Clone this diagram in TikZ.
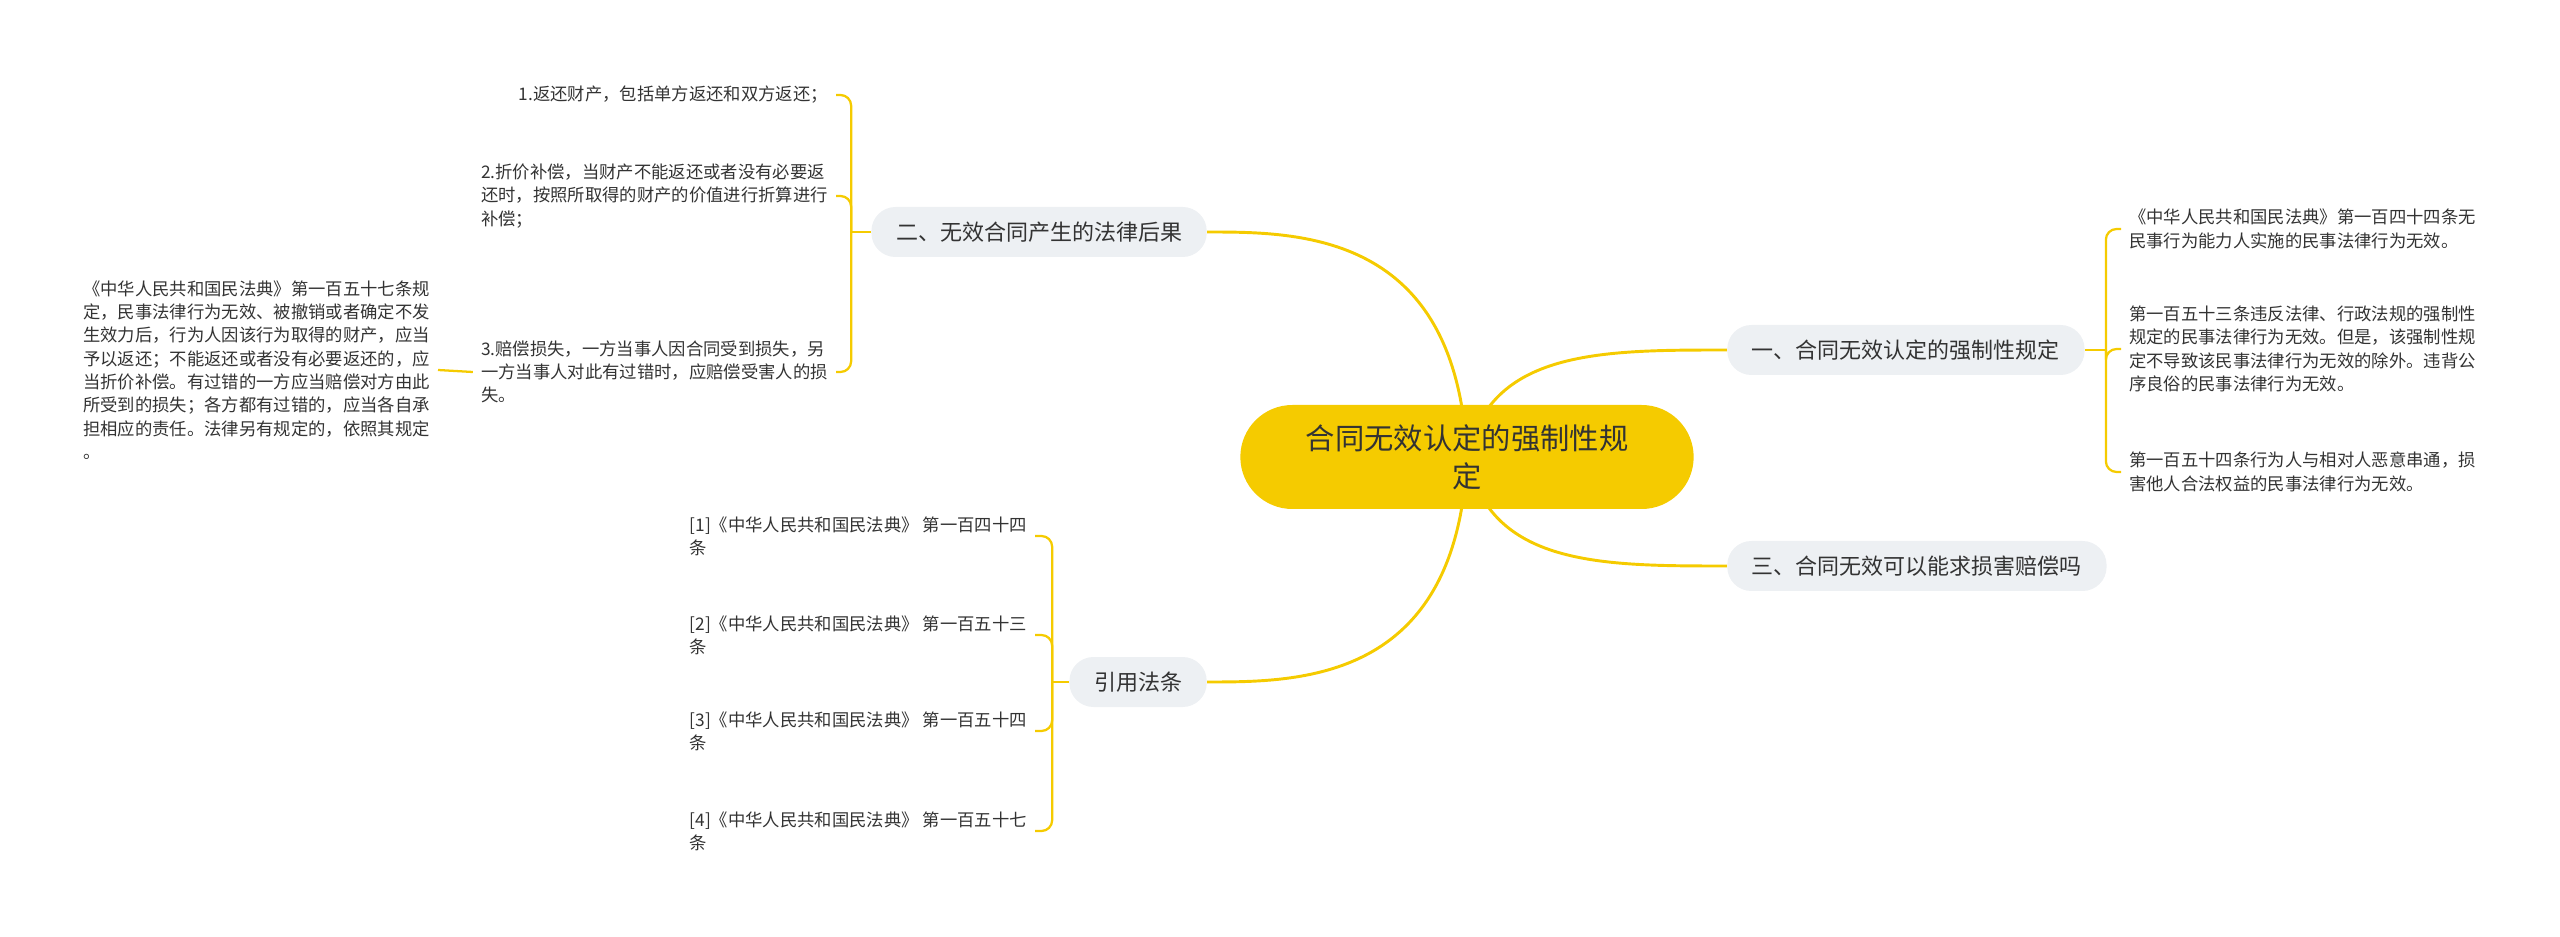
\documentclass[tikz,border=0pt]{standalone}
\usepackage{fontspec}
\setmainfont{Noto Sans CJK SC}
\usetikzlibrary{positioning,backgrounds}
\definecolor{huang}{HTML}{F5CB00}
\definecolor{hui}{HTML}{EDF0F3}
\definecolor{zi}{HTML}{333333}

\begin{document}
\begin{tikzpicture}[x=0.75pt, y=-0.75pt,
		zhong/.style={fill=huang, rounded corners=39pt, minimum width=340pt, minimum height=78pt,
			align=center, text=zi, font=\fontsize{22pt}{28.5pt}\selectfont},
		zhi/.style={fill=hui, rounded corners=18pt, minimum height=37.5pt, inner xsep=18.5pt,
			text=zi, font=\fontsize{16.5pt}{20pt}\selectfont},
		leaf/.style={align=left, text=zi, inner xsep=6pt, inner ysep=2pt,
			font=\fontsize{13pt}{17.5pt}\selectfont},
		mainlink/.style={draw=huang, line width=2.2pt},
		link/.style={draw=huang, line width=1.7pt, rounded corners=8pt}]
	\useasboundingbox (0,0) rectangle (2560,937);
	% Mitte und Aeste
	\node[zhong] (zx) at (1467,457) {合同无效认定的强制性规\\定};
	\node[zhi, anchor=east] (b2) at (1207,232) {二、无效合同产生的法律后果};
	\node[zhi, anchor=west] (b1) at (1727,350) {一、合同无效认定的强制性规定};
	\node[zhi, anchor=west] (b3) at (1727,566) {三、合同无效可以能求损害赔偿吗};
	\node[zhi, anchor=east] (yy) at (1207,682) {引用法条};
	% Verbindungen zur Mitte
	\begin{pgfonlayer}{background}
		\draw[mainlink] (zx.center) .. controls (1457,232) and (1300,232) .. (b2.east);
		\draw[mainlink] (zx.center) .. controls (1490,350) and (1600,350) .. (b1.west);
		\draw[mainlink] (zx.center) .. controls (1490,566) and (1600,566) .. (b3.west);
		\draw[mainlink] (zx.center) .. controls (1457,682) and (1300,682) .. (yy.east);
	\end{pgfonlayer}
	% Blaetter links oben
	\node[leaf, anchor=east] (l21) at (836,95) {1.返还财产，包括单方返还和双方返还；};
	\node[leaf, anchor=east] (l22) at (836,196) {2.折价补偿，当财产不能返还或者没有必要返\\还时，按照所取得的财产的价值进行折算进行\\补偿；};
	\node[leaf, anchor=east] (l23) at (836,372) {3.赔偿损失，一方当事人因合同受到损失，另\\一方当事人对此有过错时，应赔偿受害人的损\\失。};
	\node[leaf, anchor=east] (l231) at (438,370) {《中华人民共和国民法典》第一百五十七条规\\定，民事法律行为无效、被撤销或者确定不发\\生效力后，行为人因该行为取得的财产，应当\\予以返还；不能返还或者没有必要返还的，应\\当折价补偿。有过错的一方应当赔偿对方由此\\所受到的损失；各方都有过错的，应当各自承\\担相应的责任。法律另有规定的，依照其规定\\。};
	\draw[link] (b2.west) -- ++(-20,0) coordinate (b2j);
	\foreach \n in {l21,l22,l23} \draw[link] (b2j) |- (\n.east);
	\draw[link] (l23.west) -- (l231.east);
	% Blaetter rechts
	\node[leaf, anchor=west] (l11) at (2121,229) {《中华人民共和国民法典》第一百四十四条无\\民事行为能力人实施的民事法律行为无效。};
	\node[leaf, anchor=west] (l12) at (2121,349) {第一百五十三条违反法律、行政法规的强制性\\规定的民事法律行为无效。但是，该强制性规\\定不导致该民事法律行为无效的除外。违背公\\序良俗的民事法律行为无效。};
	\node[leaf, anchor=west] (l13) at (2121,472) {第一百五十四条行为人与相对人恶意串通，损\\害他人合法权益的民事法律行为无效。};
	\draw[link] (b1.east) -- ++(21,0) coordinate (b1j);
	\foreach \n in {l11,l12,l13} \draw[link] (b1j) |- (\n.west);
	% Zitate
	\foreach \i/\y/\t in {1/536/第一百四十四, 2/635/第一百五十三, 3/731/第一百五十四, 4/831/第一百五十七}
		\node[leaf, anchor=east] (c\i) at (1035,\y) {[\i]《中华人民共和国民法典》 \t\\条};
	\draw[link] (yy.west) -- ++(-17,0) coordinate (yyj);
	\foreach \i in {1,...,4} \draw[link] (yyj) |- (c\i.east);
\end{tikzpicture}
\end{document}
